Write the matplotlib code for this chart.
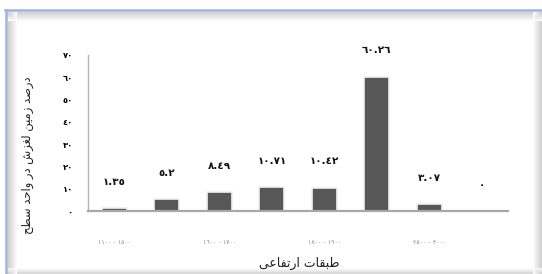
import matplotlib
matplotlib.use("Agg")
import matplotlib.pyplot as plt
from matplotlib.lines import Line2D

# data
categories = ["1100 - 1500", "1500 - 1600", "1600 - 1700", "1700 - 1800",
              "1800 - 1900", "1900 - 2500", "2500 - 3000", "3000 <"]
values = [1.35, 5.2, 8.49, 10.71, 10.42, 60.26, 3.07, 0]
yticks = [0, 10, 20, 30, 40, 50, 60, 70]

# Persian text, already shaped (presentation forms) in visual order
xlabel = ("\ufbfd\ufecb\ufe8e\ufed4\ufe97\ufead\ufe8d"      # ارتفاعی
          " \ufe95\ufe8e\ufed8\ufe92\ufec3")                  # طبقات
ylabel = ("\ufea2\ufec4\ufeb3"                                # سطح
          " \ufeaa\ufea3\ufe8d\ufeed"                         # واحد
          " \ufead\ufea9"                                     # در
          " \ufeb5\ufeb0\ufed0\ufedf"                         # لغزش
          " \ufee6\ufbff\ufee3\ufeaf"                         # زمین
          " \ufeaa\ufebb\ufead\ufea9")                        # درصد

AR = str.maketrans("0123456789", "\u0660\u0661\u0662\u0663\u0664\u0665\u0666\u0667\u0668\u0669")


def ar(s):
    return str(s).translate(AR)


plt.rcParams["font.family"] = ["DejaVu Sans"]
fig = plt.figure(figsize=(5.42, 2.74), dpi=100)
W, H = 542, 274

# window-like frame: blue top/left edge with soft grey shadow
for i in range(9):
    g = 0.82 + 0.18 * i / 9
    fig.add_artist(Line2D([7 / W, 1], [1 - (12 + i) / H] * 2, color=(g, g, g), lw=0.8))
    fig.add_artist(Line2D([(8 + i) / W] * 2, [0, 1 - 12 / H], color=(g, g, g), lw=0.8))
    fig.add_artist(Line2D([(541 - i) / W] * 2, [0, 1 - 12 / H], color=(g, g, g), lw=0.8))
    fig.add_artist(Line2D([7 / W, 1], [(1 + i * 0.6) / H] * 2, color=(g, g, g), lw=0.6))
fig.add_artist(Line2D([5 / W, 1], [1 - 10 / H] * 2, color="#a3b3da", lw=1.8))
fig.add_artist(Line2D([6 / W] * 2, [0, 1 - 10 / H], color="#a3b3da", lw=1.8))

ax = fig.add_axes([88 / W, 63 / H, 420 / W, 156 / H])
x = list(range(len(values)))
ax.bar(x, values, width=0.48, color="#575757", edgecolor="#f0f0f0", linewidth=1.2)
for xi, v in zip(x, values):
    ax.annotate(ar(f"{v:g}"), (xi, v), xytext=(0, 19), textcoords="offset points",
                ha="center", va="center", fontsize=7.5, fontweight="bold", color="#111111")

ax.set_xlim(-0.5, len(values) - 0.5)
ax.set_ylim(0, 70)
ax.set_yticks(yticks)
ax.set_yticklabels([ar(t) for t in yticks], fontsize=6, fontweight="bold")
ax.set_xticks(x[::2])
ax.set_xticklabels([ar(c) for c in categories[::2]], fontsize=4.5, color="#8a8a8a")
ax.tick_params(axis="y", length=0, pad=11)
ax.tick_params(axis="x", length=0, pad=21)
for s in ("top", "right"):
    ax.spines[s].set_visible(False)
ax.spines["left"].set_color("#b5b5b5")
ax.spines["left"].set_linewidth(1.0)
ax.spines["bottom"].set_color("#a8a8a8")
ax.spines["bottom"].set_linewidth(1.6)

fig.text(299 / W, 1 - 263 / H, xlabel, ha="center", va="center", fontsize=9, color="#222222")
fig.text(27 / W, 1 - 155 / H, ylabel, ha="center", va="center", rotation=90,
         fontsize=8.3, color="#222222")

fig.savefig("out.png", dpi=100)
